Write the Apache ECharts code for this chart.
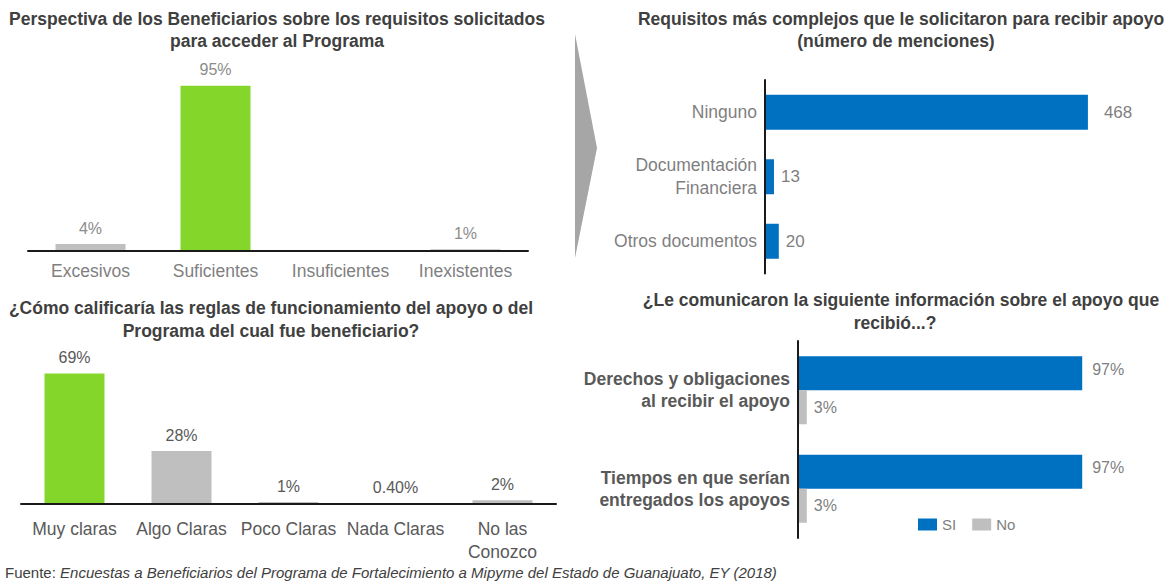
<!DOCTYPE html>
<html>
<head>
<meta charset="utf-8">
<script src="https://cdn.jsdelivr.net/npm/echarts@6/dist/echarts.min.js"></script>
<style>
  html, body { margin: 0; padding: 0; background: #ffffff; }
  #chart { width: 1175px; height: 581px; }
</style>
</head>
<body>
<div id="chart"></div>
<script>
// ---- Data ----
const p1Categories = ['Excesivos', 'Suficientes', 'Insuficientes', 'Inexistentes'];
const p1Values = [4, 95, 0, 1];

const p2Categories = ['Muy claras', 'Algo Claras', 'Poco Claras', 'Nada Claras', 'No las\nConozco'];
const p2Values = [69, 28, 1, 0.4, 2];

const p3Categories = ['Ninguno', 'Documentación\nFinanciera', 'Otros documentos'];
const p3Values = [468, 13, 20];

const p4Categories = ['Derechos y obligaciones\nal recibir el apoyo', 'Tiempos en que serían\nentregados los apoyos'];
const p4Si = [97, 97];
const p4No = [3, 3];
const p4Legend = ['SI', 'No'];

const titles = {
  p1: ['Perspectiva de los Beneficiarios sobre los requisitos solicitados', 'para acceder al Programa'],
  p2: ['¿Cómo calificaría las reglas de funcionamiento del apoyo o del', 'Programa del cual fue beneficiario?'],
  p3: ['Requisitos más complejos que le solicitaron para recibir apoyo', '(número de menciones)'],
  p4: ['¿Le comunicaron la siguiente información sobre el apoyo que', 'recibió...?']
};
const sourceLabel = 'Fuente: ';
const sourceText = 'Encuestas a Beneficiarios del Programa de Fortalecimiento a Mipyme del Estado de Guanajuato, EY (2018)';

// ---- Styles ----
const GREEN = '#84d62a';
const GREY = '#bfbfbf';
const BLUE = '#0070c0';
const FONT = 'Liberation Sans, Arial, sans-serif';
const TITLE_COLOR = '#404040';

const p1Colors = [GREY, GREEN, GREY, GREY];
const p2Colors = [GREEN, GREY, GREY, GREY, GREY];

function titleText(x, y, str) {
  return {
    type: 'text', x: x, y: y,
    style: { text: str, fill: TITLE_COLOR, font: 'bold 17.5px ' + FONT, textAlign: 'center', textVerticalAlign: 'middle' }
  };
}

const chart = echarts.init(document.getElementById('chart'), null, { renderer: 'svg' });

const catAxisBase = {
  type: 'category',
  z: 5,
  axisTick: { show: false },
  axisLine: { show: true, lineStyle: { color: '#1a1a1a', width: 2 } },
  splitLine: { show: false }
};
const valAxisBase = {
  type: 'value',
  show: false,
  splitLine: { show: false }
};

const option = {
  backgroundColor: '#ffffff',
  animation: false,
  textStyle: { fontFamily: FONT },
  grid: [
    { left: 28, width: 500, top: 77, height: 174 },
    { left: 21, width: 535, top: 315, height: 189 },
    { left: 765, width: 345, top: 80, height: 193.5 },
    { left: 798, width: 293, top: 341, height: 197 }
  ],
  xAxis: [
    Object.assign({}, catAxisBase, {
      gridIndex: 0, data: p1Categories,
      axisLabel: { color: '#7f7f7f', fontSize: 17.5, margin: 11, interval: 0 }
    }),
    Object.assign({}, catAxisBase, {
      gridIndex: 1, data: p2Categories,
      axisLabel: { color: '#595959', fontSize: 17.5, margin: 13, interval: 0, lineHeight: 23 }
    }),
    Object.assign({}, valAxisBase, { gridIndex: 2, min: 0, max: 500 }),
    Object.assign({}, valAxisBase, { gridIndex: 3, min: 0, max: 100 })
  ],
  yAxis: [
    Object.assign({}, valAxisBase, { gridIndex: 0, min: 0, max: 100 }),
    Object.assign({}, valAxisBase, { gridIndex: 1, min: 0, max: 100 }),
    Object.assign({}, catAxisBase, {
      gridIndex: 2, data: p3Categories, inverse: true,
      axisLabel: { color: '#7f7f7f', fontSize: 17.5, margin: 8, interval: 0, lineHeight: 23, align: 'right' }
    }),
    Object.assign({}, catAxisBase, {
      gridIndex: 3, data: p4Categories, inverse: true,
      axisLabel: { color: '#595959', fontSize: 17.5, fontWeight: 'bold', margin: 8, interval: 0, lineHeight: 22, align: 'right' }
    })
  ],
  legend: {
    data: p4Legend,
    left: 913, top: 512,
    itemWidth: 19, itemHeight: 12, itemGap: 16,
    icon: 'rect',
    textStyle: { color: '#7f7f7f', fontSize: 15, fontFamily: FONT },
    selectedMode: false
  },
  series: [
    {
      type: 'bar', xAxisIndex: 0, yAxisIndex: 0, barWidth: 70,
      data: p1Values.map((v, i) => ({ value: v, itemStyle: { color: p1Colors[i] } })),
      label: {
        show: true, position: 'top', distance: 8, color: '#8c8c8c', fontSize: 16,
        formatter: p => (p.value === 0 ? '' : p.value + '%')
      }
    },
    {
      type: 'bar', xAxisIndex: 1, yAxisIndex: 1, barWidth: 60,
      data: p2Values.map((v, i) => ({ value: v, itemStyle: { color: p2Colors[i] } })),
      label: {
        show: true, position: 'top', distance: 8, color: '#595959', fontSize: 16,
        formatter: p => (p.value < 1 ? p.value.toFixed(2) + '%' : p.value + '%')
      }
    },
    {
      type: 'bar', xAxisIndex: 2, yAxisIndex: 2, barWidth: 35,
      itemStyle: { color: BLUE },
      data: p3Values.map((v, i) => ({ value: v, label: { distance: i === 0 ? 16 : 7 } })),
      label: { show: true, position: 'right', color: '#7f7f7f', fontSize: 17 }
    },
    {
      name: p4Legend[0], type: 'bar', xAxisIndex: 3, yAxisIndex: 3, barWidth: 34, barGap: '0%',
      itemStyle: { color: BLUE },
      data: p4Si,
      label: { show: true, position: 'right', distance: 10, color: '#7f7f7f', fontSize: 16, formatter: '{c}%', offset: [0, -4] }
    },
    {
      name: p4Legend[1], type: 'bar', xAxisIndex: 3, yAxisIndex: 3, barWidth: 34, barGap: '0%',
      itemStyle: { color: GREY },
      data: p4No,
      label: { show: true, position: 'right', distance: 7, color: '#7f7f7f', fontSize: 16, formatter: '{c}%' }
    }
  ],
  graphic: [
    titleText(277, 19, titles.p1[0]),
    titleText(277, 41, titles.p1[1]),
    titleText(271, 308, titles.p2[0]),
    titleText(271, 331, titles.p2[1]),
    titleText(901, 19, titles.p3[0]),
    titleText(896, 41, titles.p3[1]),
    titleText(901, 300, titles.p4[0]),
    titleText(895, 323, titles.p4[1]),
    {
      type: 'polygon',
      shape: { points: [[575, 34], [597, 148], [575, 258]] },
      style: { fill: '#a6a6a6' }
    },
    {
      type: 'text', x: 5, y: 572,
      style: {
        text: '{a|' + sourceLabel + '}{b|' + sourceText + '}',
        textVerticalAlign: 'middle',
        rich: {
          a: { fontSize: 15, fontFamily: FONT, fill: TITLE_COLOR, color: TITLE_COLOR },
          b: { fontSize: 15, fontFamily: FONT, fontStyle: 'italic', fill: TITLE_COLOR, color: TITLE_COLOR }
        }
      }
    }
  ]
};

chart.setOption(option);
</script>
</body>
</html>
